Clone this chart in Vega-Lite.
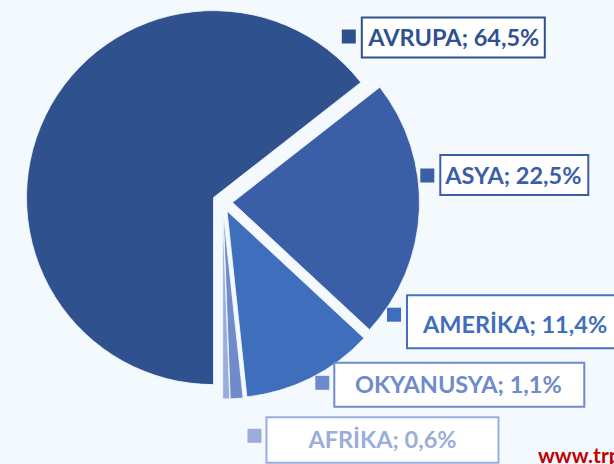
{
  "$schema": "https://vega.github.io/schema/vega-lite/v6.json",
  "width": 445,
  "height": 404,
  "autosize": {"type": "none"},
  "padding": {"left": 0, "top": 0, "right": 169, "bottom": 60},
  "background": "#F4F9FD",
  "config": {"view": {"stroke": null}},
  "data": {
    "values": [
      {"name": "AVRUPA", "value": 64.5, "rank": 1, "label": "AVRUPA; 64,5%"},
      {"name": "ASYA", "value": 22.5, "rank": 2, "label": "ASYA; 22,5%"},
      {"name": "AMERİKA", "value": 11.4, "rank": 3, "label": "AMERİKA; 11,4%"},
      {"name": "OKYANUSYA", "value": 1.1, "rank": 4, "label": "OKYANUSYA; 1,1%"},
      {"name": "AFRİKA", "value": 0.6, "rank": 5, "label": "AFRİKA; 0,6%"}
    ]
  },
  "transform": [
    {"stack": "value", "groupby": [], "sort": [{"field": "rank", "order": "ascending"}], "as": ["start", "end"]}
  ],
  "layer": [
    {
      "mark": {"type": "arc", "outerRadius": 187, "stroke": "#F4F9FD", "strokeWidth": 0.8},
      "encoding": {
        "theta": {"field": "start", "type": "quantitative", "scale": {"domain": [0, 100.1], "range": [3.14159265, 9.42477796]}},
        "theta2": {"field": "end"},
        "x": {"field": "rank", "type": "quantitative", "axis": null, "scale": {"domain": [1, 2, 3, 4, 5], "range": [213.5, 232.5, 227.0, 223.2, 222.7], "nice": false, "zero": false}},
        "y": {"field": "rank", "type": "quantitative", "axis": null, "scale": {"domain": [1, 2, 3, 4, 5], "range": [197.6, 202.4, 210.9, 212.0, 212.0], "nice": false, "zero": false}},
        "color": {"field": "name", "type": "nominal", "legend": null, "scale": {"domain": ["AVRUPA", "ASYA", "AMERİKA", "OKYANUSYA", "AFRİKA"], "range": ["#2F528F", "#3A5FA7", "#3F6EBD", "#6F8BCB", "#9AADDB"]}}
      }
    },
    {
      "mark": {"type": "point", "size": 4, "filled": true, "fill": "#FFFFFF", "strokeWidth": 2, "opacity": 1},
      "encoding": {
        "x": {"field": "rank", "type": "quantitative", "axis": null, "scale": {"domain": [1, 2, 3, 4, 5], "range": [453.8, 513.3, 515.0, 458.3, 382.5], "nice": false, "zero": false}},
        "y": {"field": "rank", "type": "quantitative", "axis": null, "scale": {"domain": [1, 2, 3, 4, 5], "range": [37.5, 175.5, 324.2, 384.8, 439.8], "nice": false, "zero": false}},
        "shape": {"field": "name", "type": "nominal", "legend": null, "scale": {"domain": ["AVRUPA", "ASYA", "AMERİKA", "OKYANUSYA", "AFRİKA"], "range": ["M-92,-20H91V20H-92Z", "M-73,-20.5H75V19.5H-73Z", "M-108,-29H112V24H-108Z", "M-124,-22H126V22H-124Z", "M-116,-22.5H116V23H-116Z"]}},
        "stroke": {"field": "name", "type": "nominal", "legend": null, "scale": {"domain": ["AVRUPA", "ASYA", "AMERİKA", "OKYANUSYA", "AFRİKA"], "range": ["#2F528F", "#3A5FA7", "#4470C0", "#6F8BCB", "#9AADDB"]}}
      }
    },
    {
      "mark": {"type": "point", "size": 4, "filled": true, "opacity": 1, "strokeWidth": 0},
      "encoding": {
        "x": {"field": "rank", "type": "quantitative", "axis": null, "scale": {"domain": [1, 2, 3, 4, 5], "range": [453.8, 513.3, 515.0, 458.3, 382.5], "nice": false, "zero": false}},
        "y": {"field": "rank", "type": "quantitative", "axis": null, "scale": {"domain": [1, 2, 3, 4, 5], "range": [37.5, 175.5, 324.2, 384.8, 439.8], "nice": false, "zero": false}},
        "shape": {"field": "name", "type": "nominal", "legend": null, "scale": {"domain": ["AVRUPA", "ASYA", "AMERİKA", "OKYANUSYA", "AFRİKA"], "range": ["M-112,-8h14v14h-14Z", "M-93,-7h14v14h-14Z", "M-128,-16.5h14v14h-14Z", "M-143,-9h14v14h-14Z", "M-135,-11h14v14h-14Z"]}},
        "color": {"field": "name", "type": "nominal", "legend": null}
      }
    },
    {
      "mark": {"type": "text", "font": "Lato", "fontSize": 23.5, "fontWeight": "bold", "align": "center", "baseline": "alphabetic", "dy": 8.5},
      "encoding": {
        "x": {"field": "rank", "type": "quantitative", "axis": null, "scale": {"domain": [1, 2, 3, 4, 5], "range": [453.8, 513.3, 515.0, 458.3, 382.5], "nice": false, "zero": false}},
        "y": {"field": "rank", "type": "quantitative", "axis": null, "scale": {"domain": [1, 2, 3, 4, 5], "range": [37.5, 175.5, 324.2, 384.8, 439.8], "nice": false, "zero": false}},
        "text": {"field": "label", "type": "nominal"},
        "color": {"field": "name", "type": "nominal", "legend": null}
      }
    },
    {
      "data": {"values": [{"rank": 6, "label": "www.trportal"}]},
      "mark": {"type": "text", "font": "Lato", "fontSize": 21, "fontWeight": "bold", "align": "left", "baseline": "alphabetic", "color": "#C00000"},
      "encoding": {
        "x": {"field": "rank", "type": "quantitative", "axis": null, "scale": {"domain": [5, 6], "range": [382.5, 538], "nice": false, "zero": false}},
        "y": {"field": "rank", "type": "quantitative", "axis": null, "scale": {"domain": [5, 6], "range": [439.8, 463], "nice": false, "zero": false}},
        "text": {"field": "label", "type": "nominal"}
      }
    }
  ],
  "resolve": {"scale": {"x": "independent", "y": "independent", "shape": "independent"}}
}
